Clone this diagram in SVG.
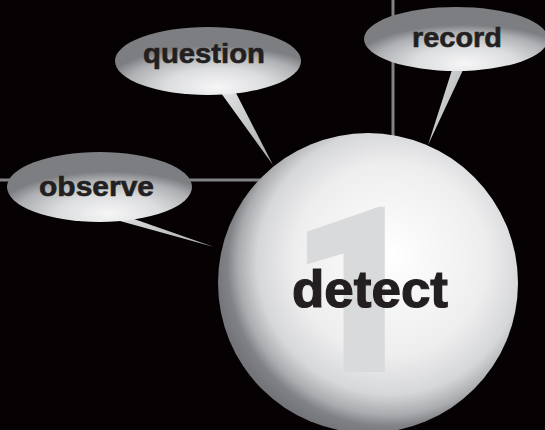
<svg xmlns="http://www.w3.org/2000/svg" width="545" height="430" viewBox="0 0 545 430">
  <defs>
    <radialGradient id="lbl" cx="0.55" cy="0.9" r="0.62" fx="0.55" fy="0.88">
      <stop offset="0" stop-color="#f6f6f7"/>
      <stop offset="0.45" stop-color="#dcdddf"/>
      <stop offset="0.8" stop-color="#aeb0b3"/>
      <stop offset="1" stop-color="#7c7e81"/>
    </radialGradient>
    <linearGradient id="tail" x1="0" y1="0" x2="1" y2="1">
      <stop offset="0" stop-color="#e6e7e8"/>
      <stop offset="1" stop-color="#a7a9ac"/>
    </linearGradient>
    <radialGradient id="ball" cx="0.57" cy="0.44" r="0.58" fx="0.58" fy="0.4">
      <stop offset="0" stop-color="#ffffff"/>
      <stop offset="0.55" stop-color="#eeeeef"/>
      <stop offset="0.76" stop-color="#d6d7d9"/>
      <stop offset="0.87" stop-color="#a9abae"/>
      <stop offset="0.93" stop-color="#808285"/>
      <stop offset="1" stop-color="#74757a"/>
    </radialGradient>
    <style>
      .lbl { font-family: "Liberation Sans", Arial, sans-serif; font-weight: bold; font-size: 28px; fill: #231f20; stroke: #231f20; stroke-width: 0.6; text-anchor: middle; }
      .big { font-family: "Liberation Sans", Arial, sans-serif; font-weight: bold; fill: #231f20; stroke: #231f20; stroke-width: 1.2; text-anchor: middle; }
      .one { font-family: Roboto, "Open Sans", sans-serif; font-weight: 900; fill: #d9dadb; stroke: #d9dadb; stroke-width: 4; text-anchor: middle; }
      .conn { stroke: #808285; stroke-width: 3; fill: none; }
    </style>
  </defs>
  <rect x="0" y="0" width="545" height="430" fill="#060203"/>
  <g id="connectors">
    <line class="conn" x1="0" y1="180" x2="262" y2="180"/>
    <line class="conn" x1="393" y1="0" x2="393" y2="138"/>
  </g>
  <g id="observe">
    <polygon points="116,205 134,205 134,219 214,247 120,221" fill="url(#tail)"/>
    <ellipse cx="99.5" cy="187" rx="92.5" ry="35" fill="url(#lbl)"/>
    <text class="lbl" x="96.5" y="196" textLength="115" lengthAdjust="spacingAndGlyphs">observe</text>
  </g>
  <g id="question">
    <polygon points="221,80 236,80 236,93 273,165 221,93" fill="url(#tail)"/>
    <ellipse cx="208" cy="61" rx="93" ry="34" fill="url(#lbl)"/>
    <text class="lbl" x="204" y="63" textLength="122" lengthAdjust="spacingAndGlyphs">question</text>
  </g>
  <g id="record">
    <polygon points="452,58 463,58 463,70 428,145 452,70" fill="url(#tail)"/>
    <ellipse cx="456" cy="39" rx="92" ry="32" fill="url(#lbl)"/>
    <text class="lbl" x="457" y="47" textLength="90" lengthAdjust="spacingAndGlyphs">record</text>
  </g>
  <g id="detect">
    <circle cx="368" cy="283" r="150" fill="url(#ball)"/>
    <text class="one" x="356" y="370" font-size="226">1</text>
    <text class="big" x="370" y="307" font-size="52" textLength="156" lengthAdjust="spacingAndGlyphs">detect</text>
  </g>
</svg>
